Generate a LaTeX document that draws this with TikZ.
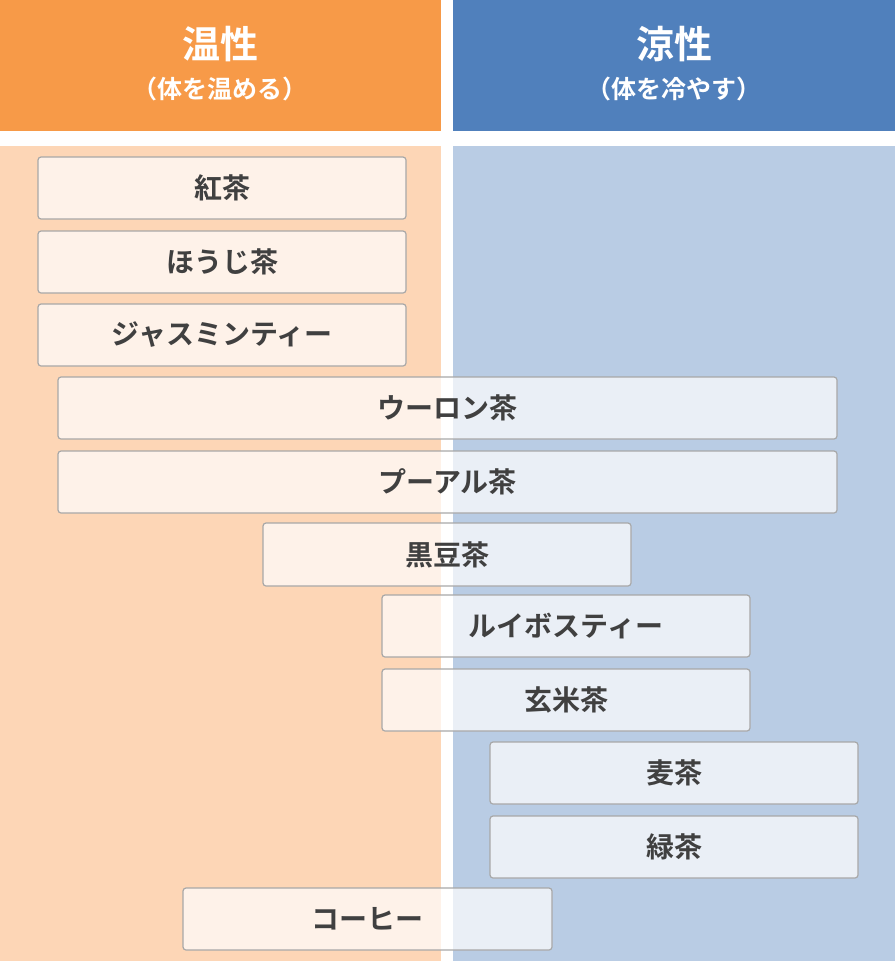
\documentclass[tikz,border=0pt]{standalone}
\usepackage{fontspec}
\newfontfamily\cjk{Noto Sans CJK JP}[BoldFont={Noto Sans CJK JP Bold}]
\definecolor{hdrO}{HTML}{F79A48}
\definecolor{hdrB}{HTML}{5080BC}
\definecolor{bgO}{HTML}{FDD6B6}
\definecolor{bgB}{HTML}{B9CCE4}
\definecolor{txt}{HTML}{404040}
\definecolor{bd}{HTML}{A8A8A8}
\begin{document}
\begin{tikzpicture}[x=1pt,y=-1pt,
  tea/.style={draw=bd,line width=1.2pt,rounded corners=3pt,fill=white,fill opacity=0.7},
  teat/.style={text=txt,font=\cjk\bfseries\fontsize{28}{32}\selectfont},
  ttl/.style={text=white,font=\cjk\bfseries\fontsize{38}{42}\selectfont},
  sub/.style={text=white,font=\cjk\bfseries\fontsize{25}{28}\selectfont}]
\useasboundingbox (0,0) rectangle (895,961);
\fill[white] (0,0) rectangle (895,961);
\fill[hdrO] (0,0) rectangle (441,131);
\fill[hdrB] (453,0) rectangle (895,131);
\fill[bgO] (0,146) rectangle (441,961);
\fill[bgB] (453,146) rectangle (895,961);
\node[ttl] (t1) at (220,44) {温性};
\node[sub] (s1) at (220,89) {（体を温める）};
\node[ttl] (t2) at (674,44) {涼性};
\node[sub] (s2) at (674,89) {（体を冷やす）};
\newcommand{\tea}[6]{\path[tea] (#2,#3) rectangle (#4,#5); \node[teat] (#1) at ({(#2+#4)/2},{(#3+#5)/2}) {#6};}
\tea{a}{38}{157}{406}{219}{紅茶}
\tea{b}{38}{231}{406}{293}{ほうじ茶}
\tea{c}{38}{304}{406}{366}{ジャスミンティー}
\tea{d}{58}{377}{837}{439}{ウーロン茶}
\tea{e}{58}{451}{837}{513}{プーアル茶}
\tea{f}{263}{523}{631}{586}{黒豆茶}
\tea{g}{382}{595}{750}{657}{ルイボスティー}
\tea{h}{382}{669}{750}{731}{玄米茶}
\tea{i}{490}{742}{858}{804}{麦茶}
\tea{j}{490}{816}{858}{878}{緑茶}
\tea{k}{183}{888}{552}{950}{コーヒー}
\end{tikzpicture}
\end{document}
